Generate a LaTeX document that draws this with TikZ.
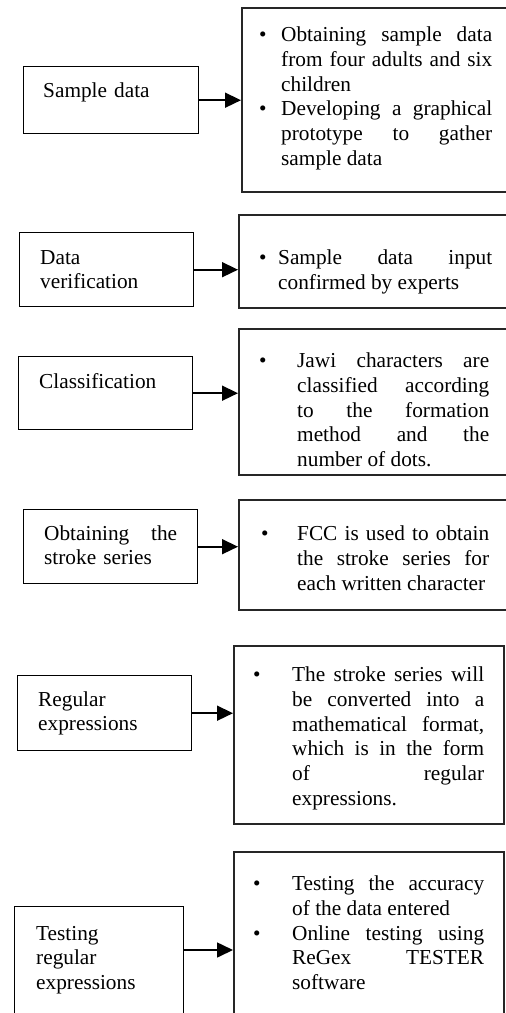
\documentclass[tikz,border=0pt]{standalone}
\usepackage{fontspec}
\setmainfont{Liberation Serif}
\usetikzlibrary{arrows.meta, positioning}
\newcommand{\bitem}[2]{\par\noindent\hangindent=#1pt\hangafter=1\makebox[#1pt][l]{\textbullet}\strut#2\par}

\begin{document}
\begin{tikzpicture}[x=1pt, y=-1pt, font=\fontsize{21.3}{24.7}\selectfont]
    \tikzstyle{stage} = [rectangle, draw=black, line width=1.4pt, inner sep=0pt, anchor=north west]
    \tikzstyle{info} = [rectangle, draw=black!85, line width=1.6pt, inner sep=0pt, anchor=north west]
    \tikzstyle{stagetext} = [inner sep=0pt, anchor=north west, align=left, text width=150pt]
    \tikzstyle{infotext} = [inner sep=0pt, anchor=north west, align=justify]
    \tikzstyle{flow} = [line width=1.6pt, -{Triangle[length=16pt, width=15pt]}]

    \useasboundingbox (0,0) rectangle (506,1013);
    \clip (0,0) rectangle (506,1013);

    % left column
    \node (sample) [stage, minimum width=175pt, minimum height=67pt] at (23,66) {};
    \node (verify) [stage, minimum width=174pt, minimum height=74pt] at (19,232) {};
    \node (classify) [stage, minimum width=174pt, minimum height=73pt] at (18,356) {};
    \node (stroke) [stage, minimum width=174pt, minimum height=74pt] at (23,509) {};
    \node (regex) [stage, minimum width=174pt, minimum height=75pt] at (17,675) {};
    \node (testing) [stage, minimum width=169pt, minimum height=140pt] at (14,906) {};

    \node (sampletxt) [stagetext] at (43,79.7) {\strut Sample data};
    \node (verifytxt) [stagetext] at (40,246.7) {\strut Data\\verification};
    \node (classifytxt) [stagetext] at (39,370.7) {\strut Classification};
    \node (stroketxt) [stagetext, text width=133pt] at (44,522.7) {\strut Obtaining\hfill the\\stroke series};
    \node (regextxt) [stagetext] at (38,688.7) {\strut Regular\\expressions};
    \node (testingtxt) [stagetext] at (36,922.7) {\strut Testing\\regular\\expressions};

    % right column
    \node (sampleinfo) [info, minimum width=290pt, minimum height=184pt] at (241,7) {};
    \node (verifyinfo) [info, minimum width=290pt, minimum height=93pt] at (238,214) {};
    \node (classifyinfo) [info, minimum width=290pt, minimum height=146pt] at (238,328) {};
    \node (strokeinfo) [info, minimum width=290pt, minimum height=110pt] at (238,499) {};
    \node (regexinfo) [info, minimum width=270pt, minimum height=178pt] at (233,645) {};
    \node (testinginfo) [info, minimum width=270pt, minimum height=200pt] at (233,851) {};

    \node (sampleitems) [infotext, text width=233pt] at (259,16.7)
        {\bitem{22}{Obtaining sample data\linebreak from four adults and six\linebreak children}%
         \bitem{22}{Developing a graphical\linebreak prototype to gather\linebreak sample data}};
    \node (verifyitems) [infotext, text width=233pt] at (259,239.7)
        {\bitem{19}{Sample data input\linebreak confirmed by experts}};
    \node (classifyitems) [infotext, text width=230pt] at (259,342.7)
        {\bitem{38}{Jawi characters are\linebreak classified according\linebreak to the formation\linebreak method and the\linebreak number of dots.}};
    \node (strokeitems) [infotext, text width=228pt] at (261,515.7)
        {\bitem{36}{FCC is used to obtain\linebreak the stroke series for\linebreak each written character}};
    \node (regexitems) [infotext, text width=231pt] at (253,656.7)
        {\bitem{39}{The stroke series will\linebreak be converted into a\linebreak mathematical format,\linebreak which is in the form\linebreak of regular\linebreak expressions.}};
    \node (testingitems) [infotext, text width=231pt] at (253,865.7)
        {\bitem{39}{Testing the accuracy\linebreak of the data entered}%
         \bitem{39}{Online testing using\linebreak ReGex TESTER\linebreak software}};

    % arrows
    \draw [flow] (sample.east) -- (sample.east -| sampleinfo.west);
    \draw [flow] (verify.east) -- (verify.east -| verifyinfo.west);
    \draw [flow] (classify.east) -- (classify.east -| classifyinfo.west);
    \draw [flow] (stroke.east) -- (stroke.east -| strokeinfo.west);
    \draw [flow] (regex.east) -- (regex.east -| regexinfo.west);
    \draw [flow] ([yshift=-44pt]testing.north east) -- ([yshift=-99pt]testinginfo.north west);
\end{tikzpicture}
\end{document}
